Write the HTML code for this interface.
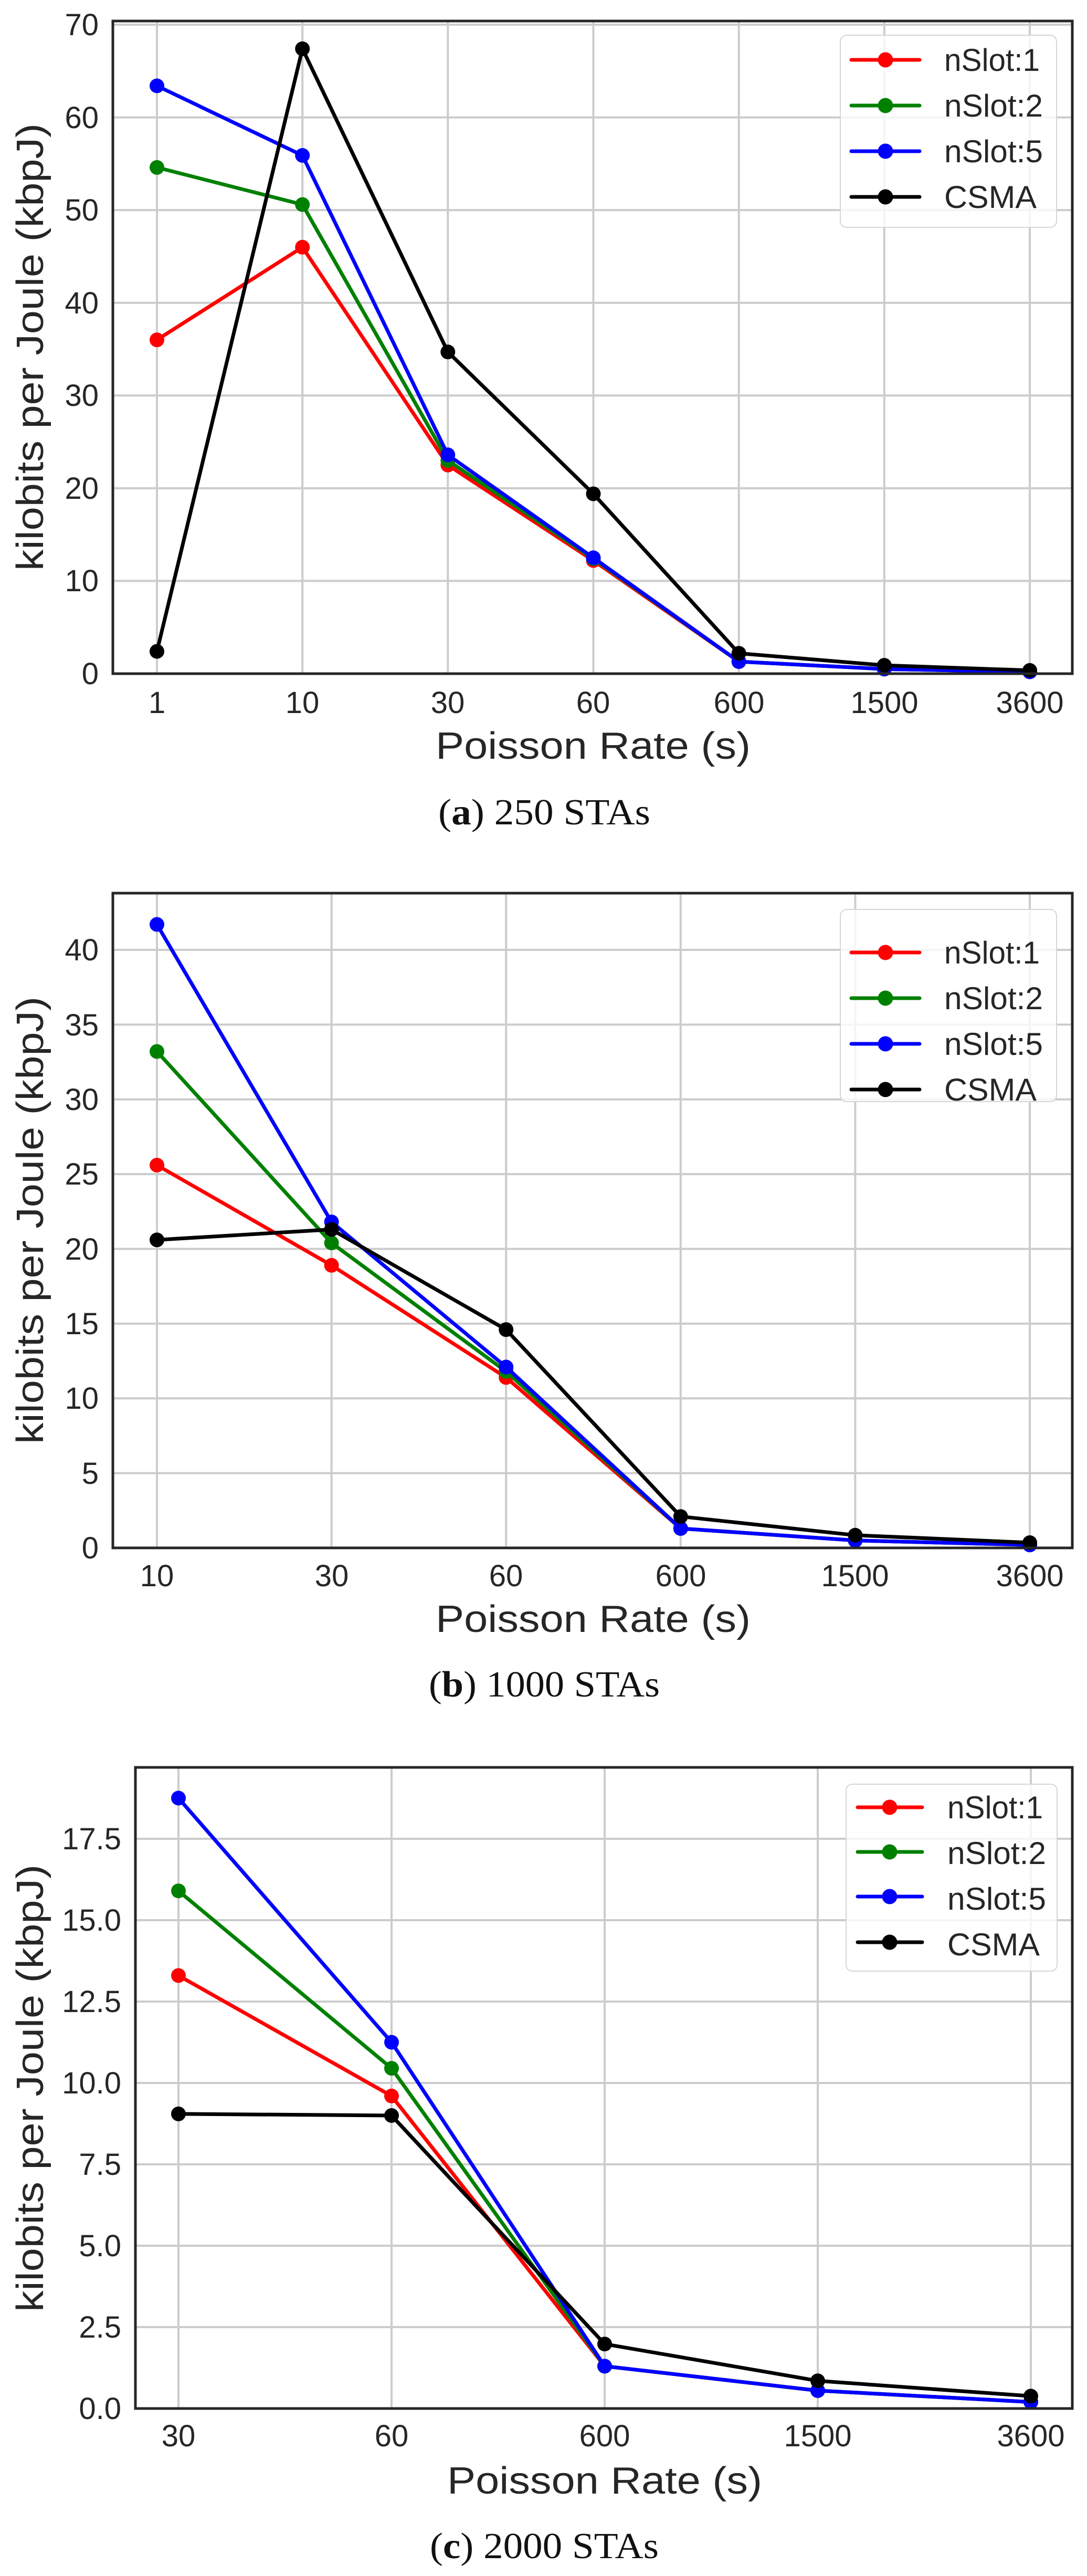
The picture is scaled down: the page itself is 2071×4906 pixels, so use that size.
<!DOCTYPE html>
<html><head><meta charset="utf-8"><style>
html,body{margin:0;padding:0;background:#fff;}
svg{display:block;}
text{font-family:"Liberation Sans",Arial,sans-serif;fill:#262626;}
.tk{font-size:58px;}
.ax{font-size:72px;}
.lg{font-size:60px;}
.cap{font-family:"Liberation Serif","Times New Roman",serif;font-size:70px;fill:#111;}
</style></head><body>
<svg id="s" width="2071" height="4906" viewBox="0 0 2071 4906" xmlns="http://www.w3.org/2000/svg">
<rect width="2071" height="4906" fill="#fff"/>
<g id="plots"></g>

<!-- Plot A text -->
<g class="tk" text-anchor="end">
<text x="188" y="1303">0</text><text x="188" y="1126">10</text><text x="188" y="950">20</text><text x="188" y="773">30</text><text x="188" y="597">40</text><text x="188" y="420">50</text><text x="188" y="244">60</text><text x="188" y="67">70</text>
</g>
<g class="tk" text-anchor="middle">
<text x="299" y="1358">1</text><text x="576" y="1358">10</text><text x="853" y="1358">30</text><text x="1130" y="1358">60</text><text x="1408" y="1358">600</text><text x="1685" y="1358">1500</text><text x="1962" y="1358">3600</text>
</g>
<text class="ax" x="1130" y="1445" text-anchor="middle" textLength="600" lengthAdjust="spacingAndGlyphs">Poisson Rate (s)</text>
<text class="ax" transform="translate(82,661) rotate(-90)" text-anchor="middle" textLength="852" lengthAdjust="spacingAndGlyphs">kilobits per Joule (kbpJ)</text>
<text class="cap" x="1037" y="1570" text-anchor="middle" textLength="404" lengthAdjust="spacingAndGlyphs">(<tspan font-weight="bold">a</tspan>) 250 STAs</text>

<!-- Plot B text -->
<g class="tk" text-anchor="end">
<text x="188" y="2968">0</text><text x="188" y="2826">5</text><text x="188" y="2683">10</text><text x="188" y="2541">15</text><text x="188" y="2399">20</text><text x="188" y="2256">25</text><text x="188" y="2114">30</text><text x="188" y="1972">35</text><text x="188" y="1829">40</text>
</g>
<g class="tk" text-anchor="middle">
<text x="299" y="3021">10</text><text x="632" y="3021">30</text><text x="964" y="3021">60</text><text x="1297" y="3021">600</text><text x="1629" y="3021">1500</text><text x="1962" y="3021">3600</text>
</g>
<text class="ax" x="1130" y="3108" text-anchor="middle" textLength="600" lengthAdjust="spacingAndGlyphs">Poisson Rate (s)</text>
<text class="ax" transform="translate(82,2324) rotate(-90)" text-anchor="middle" textLength="852" lengthAdjust="spacingAndGlyphs">kilobits per Joule (kbpJ)</text>
<text class="cap" x="1037" y="3231" text-anchor="middle" textLength="440" lengthAdjust="spacingAndGlyphs">(<tspan font-weight="bold">b</tspan>) 1000 STAs</text>

<!-- Plot C text -->
<g class="tk" text-anchor="end">
<text x="231" y="4607">0.0</text><text x="231" y="4452">2.5</text><text x="231" y="4297">5.0</text><text x="231" y="4142">7.5</text><text x="231" y="3987">10.0</text><text x="231" y="3832">12.5</text><text x="231" y="3677">15.0</text><text x="231" y="3522">17.5</text>
</g>
<g class="tk" text-anchor="middle">
<text x="340" y="4659">30</text><text x="746" y="4659">60</text><text x="1152" y="4659">600</text><text x="1558" y="4659">1500</text><text x="1964" y="4659">3600</text>
</g>
<text class="ax" x="1152" y="4749" text-anchor="middle" textLength="600" lengthAdjust="spacingAndGlyphs">Poisson Rate (s)</text>
<text class="ax" transform="translate(82,3977) rotate(-90)" text-anchor="middle" textLength="852" lengthAdjust="spacingAndGlyphs">kilobits per Joule (kbpJ)</text>
<text class="cap" x="1037" y="4872" text-anchor="middle" textLength="436" lengthAdjust="spacingAndGlyphs">(<tspan font-weight="bold">c</tspan>) 2000 STAs</text>

<!-- legend texts -->
<g class="lg">
<text x="1799" y="135" textLength="182" lengthAdjust="spacingAndGlyphs">nSlot:1</text>
<text x="1799" y="222" textLength="188" lengthAdjust="spacingAndGlyphs">nSlot:2</text>
<text x="1799" y="309" textLength="188" lengthAdjust="spacingAndGlyphs">nSlot:5</text>
<text x="1799" y="396" textLength="176" lengthAdjust="spacingAndGlyphs">CSMA</text>

<text x="1799" y="1835" textLength="182" lengthAdjust="spacingAndGlyphs">nSlot:1</text>
<text x="1799" y="1922" textLength="188" lengthAdjust="spacingAndGlyphs">nSlot:2</text>
<text x="1799" y="2009" textLength="188" lengthAdjust="spacingAndGlyphs">nSlot:5</text>
<text x="1799" y="2096" textLength="176" lengthAdjust="spacingAndGlyphs">CSMA</text>

<text x="1805" y="3463" textLength="182" lengthAdjust="spacingAndGlyphs">nSlot:1</text>
<text x="1805" y="3550" textLength="188" lengthAdjust="spacingAndGlyphs">nSlot:2</text>
<text x="1805" y="3637" textLength="188" lengthAdjust="spacingAndGlyphs">nSlot:5</text>
<text x="1805" y="3724" textLength="176" lengthAdjust="spacingAndGlyphs">CSMA</text>
</g>
</svg>
<script>
(function(){
var NS="http://www.w3.org/2000/svg";
var root=document.getElementById("plots");
function el(n,a,p){var e=document.createElementNS(NS,n);for(var k in a)e.setAttribute(k,a[k]);(p||root).appendChild(e);return e;}
var cols=["#ff0000","#008000","#0000ff","#000000"];
var plots=[
 {L:215,R:2043,T:40,B:1283,y0:1283,ppu:17.657,xs:[299,576.2,853.3,1130.5,1407.7,1684.8,1962],yt:[10,20,30,40,50,60,70],
  d:[[36,46,22.5,12.2,1.3,0.5,0.2],[54.6,50.6,23,12.4,1.3,0.5,0.2],[63.4,55.9,23.6,12.5,1.3,0.5,0.2],[2.4,67.4,34.7,19.4,2.2,0.9,0.35]],
  lg:{x:1601,y:67,w:412,h:366,ly:[114,201,288,375],lx1:1622,lx2:1752,mx:1687}},
 {L:215,R:2043,T:1701,B:2948,y0:2948,ppu:28.475,xs:[299,631.6,964.2,1296.8,1629.4,1962],yt:[5,10,15,20,25,30,35,40],
  d:[[25.6,18.9,11.4,1.3,0.5,0.2],[33.2,20.4,11.8,1.3,0.5,0.2],[41.7,21.8,12.1,1.3,0.5,0.2],[20.6,21.3,14.6,2.1,0.85,0.35]],
  lg:{x:1601,y:1732,w:412,h:366,ly:[1814,1901,1988,2075],lx1:1622,lx2:1752,mx:1687}},
 {L:258,R:2043,T:3366,B:4587,y0:4587,ppu:62,xs:[340,746,1152,1558,1964],yt:[2.5,5,7.5,10,12.5,15,17.5],
  d:[[13.3,9.6,1.3,0.55,0.2],[15.9,10.45,1.3,0.55,0.2],[18.75,11.25,1.3,0.55,0.2],[9.05,9.0,1.98,0.85,0.38]],
  lg:{x:1612,y:3398,w:402,h:356,ly:[3442,3527,3612,3699],lx1:1634,lx2:1757,mx:1695}}
];
plots.forEach(function(p){
 var g=el("g",{});
 p.xs.forEach(function(x){el("line",{x1:x,x2:x,y1:p.T,y2:p.B,stroke:"#cccccc","stroke-width":4},g);});
 p.yt.forEach(function(v){var y=p.y0-v*p.ppu;el("line",{x1:p.L,x2:p.R,y1:y,y2:y,stroke:"#cccccc","stroke-width":4},g);});
 p.d.forEach(function(s,i){
  var pts=s.map(function(v,j){return p.xs[j]+","+(p.y0-v*p.ppu).toFixed(1);}).join(" ");
  el("polyline",{points:pts,fill:"none",stroke:cols[i],"stroke-width":7,"stroke-linejoin":"round","stroke-linecap":"round"},g);
  s.forEach(function(v,j){el("circle",{cx:p.xs[j],cy:(p.y0-v*p.ppu).toFixed(1),r:14,fill:cols[i]},g);});
 });
 el("rect",{x:p.L,y:p.T,width:p.R-p.L,height:p.B-p.T,fill:"none",stroke:"#262626","stroke-width":5},g);
 var l=p.lg;
 el("rect",{x:l.x,y:l.y,width:l.w,height:l.h,rx:12,fill:"#ffffff","fill-opacity":0.8,stroke:"#d6d6d6","stroke-width":2},g);
 l.ly.forEach(function(y,i){
  el("line",{x1:l.lx1,x2:l.lx2,y1:y,y2:y,stroke:cols[i],"stroke-width":7,"stroke-linecap":"round"},g);
  el("circle",{cx:l.mx,cy:y,r:14.5,fill:cols[i]},g);
 });
});
})();
</script>
</body></html>
